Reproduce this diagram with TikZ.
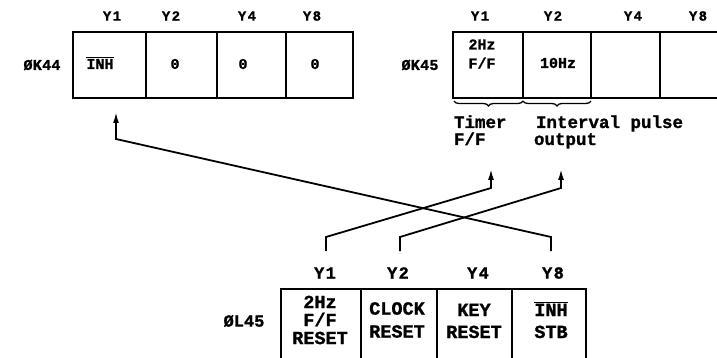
\documentclass[tikz,border=0pt]{standalone}
\usepackage{fontspec}
\setmonofont{Liberation Mono}[BoldFeatures={FakeBold=1.2}]
\usetikzlibrary{arrows.meta,decorations.pathreplacing}
\newcommand{\tsz}[2]{\fontsize{#1}{#2}\selectfont\ttfamily\bfseries}
\begin{document}
\begin{tikzpicture}[x=1pt,y=-1pt,line width=2pt,
  ylab/.style={inner sep=0pt,font=\tsz{14}{14}\addfontfeature{LetterSpace=10}},
  ylabb/.style={inner sep=0pt,font=\tsz{17}{17}\addfontfeature{LetterSpace=8}},
  regname/.style={inner sep=0pt,font=\tsz{15}{15}\addfontfeature{LetterSpace=2}},
  regnameb/.style={inner sep=0pt,font=\tsz{17}{17}},
  celltop/.style={inner sep=0pt,align=center,font=\tsz{15}{19}},
  cellbot/.style={inner sep=0pt,align=center,font=\tsz{18.5}{18}},
  note/.style={inner sep=0pt,anchor=base west,font=\tsz{17.5}{17}},
  conn/.style={line width=1.8pt,-{Latex[length=11pt,width=6pt]}},
  bracestyle/.style={line width=1.3pt,decorate,decoration={brace,mirror,amplitude=5pt}}]
\useasboundingbox (0,0) rectangle (717,358);

% ---- register K44 ----
\draw (73,32) rectangle (353,98);
\draw (146,32) -- (146,98) (217,32) -- (217,98) (286,32) -- (286,98);
\node[regname] (k44name) at (42,65) {ØK44};
\node[ylab] (k44y1) at (112,16) {Y1};
\node[ylab] (k44y2) at (171,16) {Y2};
\node[ylab] (k44y4) at (247,16) {Y4};
\node[ylab] (k44y8) at (312,16) {Y8};
\node[celltop] (k44c1) at (100,63) {$\overline{\hbox{\tsz{15}{15}INH}}$};
\node[celltop] (k44c2) at (175,64) {0};
\node[celltop] (k44c3) at (243,64) {0};
\node[celltop] (k44c4) at (315,64) {0};

% ---- register K45 ----
\draw (720,32) -- (453,32) -- (453,98) -- (720,98);
\draw (523,32) -- (523,98) (591,32) -- (591,98) (660,32) -- (660,98);
\node[regname] (k45name) at (420,65) {ØK45};
\node[ylab] (k45y1) at (480,16) {Y1};
\node[ylab] (k45y2) at (553,16) {Y2};
\node[ylab] (k45y4) at (633,16) {Y4};
\node[ylab] (k45y8) at (698,16) {Y8};
\node[celltop] (k45c1) at (482,54) {2Hz\\F/F};
\node[celltop] (k45c2) at (558,63) {10Hz};

\coordinate (br1a) at (454,101);
\coordinate (br1b) at (523,101);
\coordinate (br2b) at (591,101);
\draw[bracestyle] (br1a) -- (br1b);
\draw[bracestyle] (br1b) -- (br2b);
\node[note] (timer1) at (453,128) {Timer};
\node[note] (timer2) at (453,145) {F/F};
\node[note] (int1) at (535,128) {Interval pulse};
\node[note] (int2) at (533,145) {output};

% ---- register L45 ----
\draw (281,362) -- (281,289) -- (586,289) -- (586,362);
\draw (361,289) -- (361,362) (437,289) -- (437,362) (512,289) -- (512,362);
\node[regnameb] (l45name) at (244,321) {ØL45};
\node[ylabb] (l45y1) at (325,273) {Y1};
\node[ylabb] (l45y2) at (398,273) {Y2};
\node[ylabb] (l45y4) at (478,273) {Y4};
\node[ylabb] (l45y8) at (553,273) {Y8};
\node[cellbot] (l45c1) at (320,320) {2Hz\\F/F\\RESET};
\node[cellbot,font=\tsz{18.5}{23}] (l45c2) at (397,320) {CLOCK\\RESET};
\node[cellbot,font=\tsz{18.5}{22}] (l45c3) at (474,321) {KEY\\RESET};
\node[cellbot,font=\tsz{18.5}{22}] (l45c4) at (551,320) {$\overline{\hbox{\tsz{18.5}{18}INH}}$\\STB};

% ---- connectors ----
\coordinate (fromy1) at (326,251);
\coordinate (fromy2) at (400,251);
\coordinate (fromy8) at (551,251);
\coordinate (toinh) at (116,112);
\coordinate (totimer) at (491,169);
\coordinate (toint) at (561,169);
\draw[conn] (fromy8) -- (551,237) -- (116,139) -- (toinh);
\draw[conn] (fromy1) -- (326,237) -- (491,188) -- (totimer);
\draw[conn] (fromy2) -- (400,237) -- (561,188) -- (toint);
\end{tikzpicture}
\end{document}
